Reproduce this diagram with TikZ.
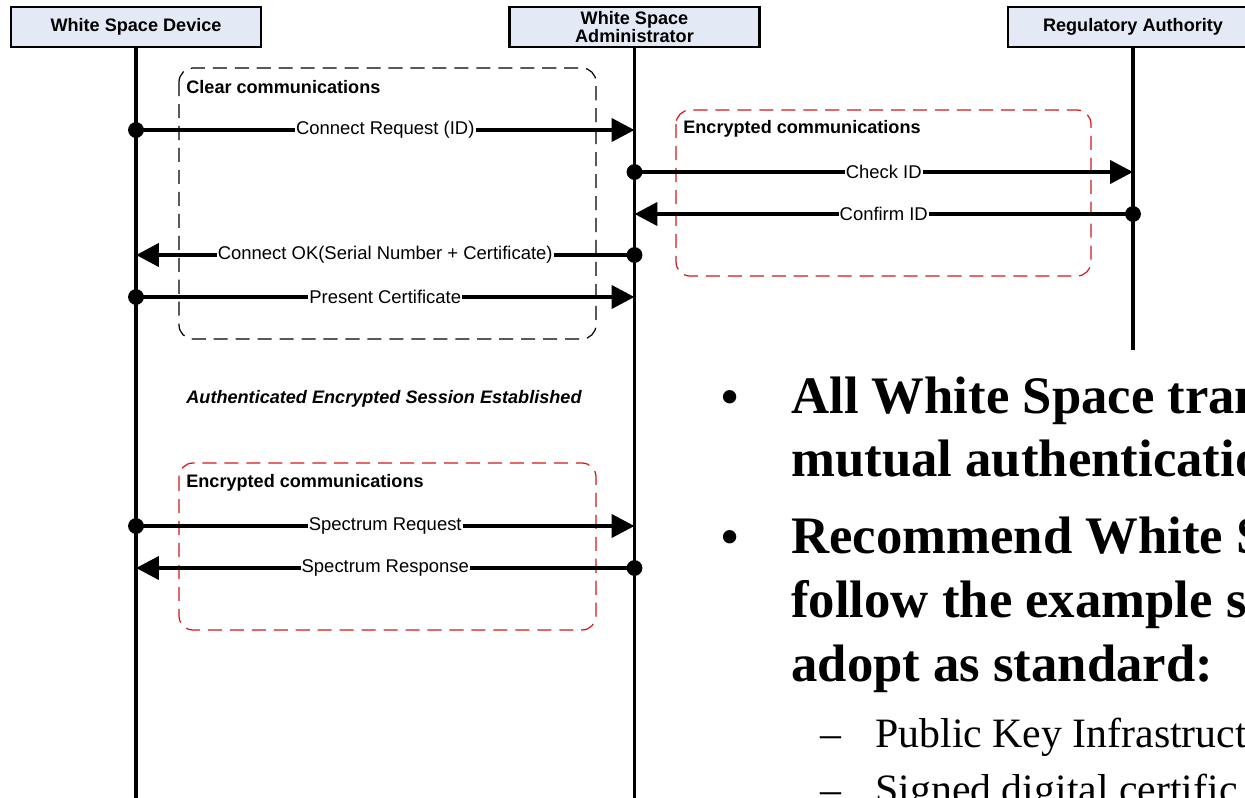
\documentclass[tikz,border=0pt]{standalone}
\usepackage{fontspec}
\setmainfont{Liberation Serif}
\setsansfont{Liberation Sans}
\usetikzlibrary{arrows.meta}
\definecolor{boxfill}{RGB}{228,234,245}
\definecolor{dred}{RGB}{210,25,25}
\begin{document}
\begin{tikzpicture}[x=0.02cm,y=-0.02cm,
 actor/.style={draw=black,line width=1.2pt,fill=boxfill,minimum width=5cm,minimum height=0.8cm,inner sep=0pt,align=center,font=\sffamily\bfseries\fontsize{10.3}{11.5}\selectfont},
 life/.style={line width=2.1pt},
 msg/.style={line width=2.4pt,-{Triangle[length=13pt,width=13pt]}},
 lbl/.style={fill=white,inner sep=0.6pt,font=\sffamily\fontsize{10.5}{12}\selectfont},
 grp/.style={dash pattern=on 8pt off 4.5pt,line width=0.7pt,rounded corners=8pt},
 grptitle/.style={anchor=west,inner sep=0pt,font=\sffamily\bfseries\fontsize{10.3}{12}\selectfont},
 sess/.style={inner sep=0pt,font=\sffamily\bfseries\itshape\fontsize{10.3}{12}\selectfont},
 big/.style={anchor=base west,inner sep=0pt,font=\bfseries\fontsize{30}{36}\selectfont},
 bul/.style={anchor=base,inner sep=0pt,font=\bfseries\fontsize{28}{36}\selectfont},
 sub/.style={anchor=base west,inner sep=0pt,font=\fontsize{23.8}{28}\selectfont},
]
\useasboundingbox (0,0) rectangle (1245,798);
\clip (0,0) rectangle (1245,798);

% actors
\node[actor] (wsd) at (136,27) {White Space Device};
\node[actor] (wsa) at (634.5,27) {White Space\\[-1.5pt]Administrator};
\node[actor] (ra) at (1133,27) {Regulatory Authority};

% lifeline ends
\coordinate (wsdend) at (136,800);
\coordinate (wsaend) at (634.5,800);
\coordinate (raend) at (1133,350);
\draw[life] (wsd.south) -- (wsdend);
\draw[life] (wsa.south) -- (wsaend);
\draw[life] (ra.south) -- (raend);

% groups
\draw[grp] (179,68) rectangle (596,339);
\node[grptitle] (g1) at (186,87) {Clear communications};
\draw[grp,draw=dred] (676,110) rectangle (1091,276);
\node[grptitle] (g2) at (683,129) {Encrypted communications};
\draw[grp,draw=dred] (179,463) rectangle (596,630);
\node[grptitle] (g3) at (186,483) {Encrypted communications};

% message rows
\coordinate (y1) at (0,130);
\coordinate (y2) at (0,172);
\coordinate (y3) at (0,214);
\coordinate (y4) at (0,255);
\coordinate (y5) at (0,297);
\coordinate (y6) at (0,526);
\coordinate (y7) at (0,568);

\draw[msg] (wsd |- y1) -- node[lbl] (l1) {Connect Request (ID)} (wsa |- y1);
\fill (wsd |- y1) circle (4.5pt);
\draw[msg] (wsa |- y2) -- node[lbl] (l2) {Check ID} (ra |- y2);
\fill (wsa |- y2) circle (4.5pt);
\draw[msg] (ra |- y3) -- node[lbl] (l3) {Confirm ID} (wsa |- y3);
\fill (ra |- y3) circle (4.5pt);
\draw[msg] (wsa |- y4) -- node[lbl] (l4) {Connect OK(Serial Number + Certificate)} (wsd |- y4);
\fill (wsa |- y4) circle (4.5pt);
\draw[msg] (wsd |- y5) -- node[lbl] (l5) {Present Certificate} (wsa |- y5);
\fill (wsd |- y5) circle (4.5pt);

\node[sess] (s1) at (384,399) {Authenticated Encrypted Session Established};

\draw[msg] (wsd |- y6) -- node[lbl] (l6) {Spectrum Request} (wsa |- y6);
\fill (wsd |- y6) circle (4.5pt);
\draw[msg] (wsa |- y7) -- node[lbl] (l7) {Spectrum Response} (wsd |- y7);
\fill (wsa |- y7) circle (4.5pt);

% bullet text
\node[bul] (b1) at (730,413) {\textbullet};
\node[big] (t1) at (791,413) {All White Space tran};
\node[big] (t2) at (791,476) {mutual authenticatio};
\node[bul] (b2) at (730,553) {\textbullet};
\node[big] (t3) at (791,553) {Recommend White S};
\node[big] (t4) at (791,617) {follow the example s};
\node[big] (t5) at (791,681) {adopt as standard:};
\node[sub] (d1) at (820,747) {\textendash};
\node[sub] (t6) at (875,747) {Public Key Infrastruct};
\node[sub] (d2) at (820,803) {\textendash};
\node[sub] (t7) at (875,803) {Signed digital certific};
\end{tikzpicture}
\end{document}
